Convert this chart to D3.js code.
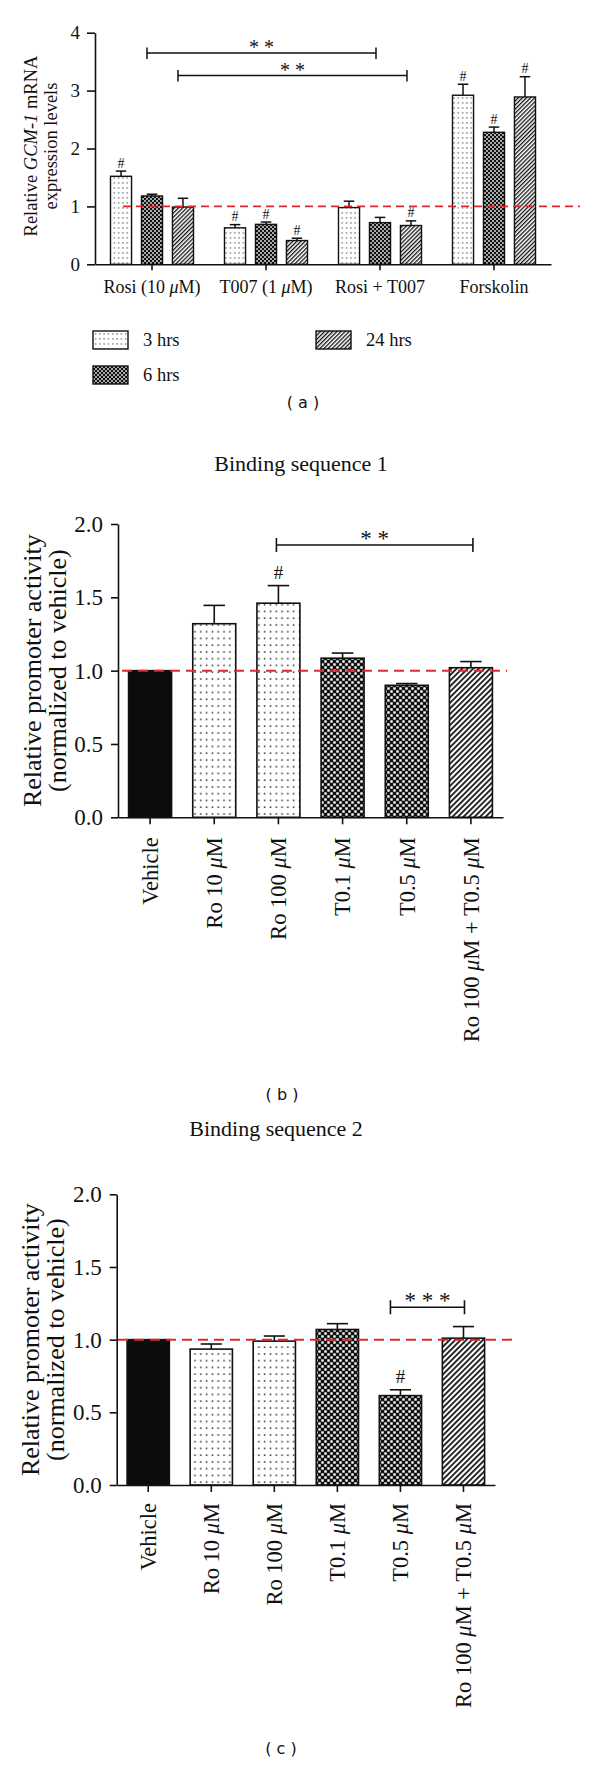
<!DOCTYPE html>
<html>
<head>
<meta charset="utf-8">
<script src="https://cdn.jsdelivr.net/npm/d3@7"></script>
<style>
  body { margin: 0; background: #fff; }
  svg { display: block; }
  text { font-family: "Liberation Serif", "Times New Roman", serif; fill: #111; }
  .plabel { font-family: "DejaVu Sans", sans-serif; }
</style>
</head>
<body>
<script>
// ---------- panel (a): GCM-1 mRNA ----------
const groupsA = ["Rosi (10 μM)", "T007 (1 μM)", "Rosi + T007", "Forskolin"];
const seriesA = ["3 hrs", "6 hrs", "24 hrs"];
const meanA3  = [1.52, 0.63, 0.98, 2.92];
const meanA6  = [1.18, 0.69, 0.72, 2.28];
const meanA24 = [0.99, 0.41, 0.67, 2.89];
const errA3   = [0.09, 0.055, 0.11, 0.19];
const errA6   = [0.03, 0.04, 0.09, 0.09];
const errA24  = [0.15, 0.04, 0.08, 0.35];
const hashA3  = [true, true, false, true];
const hashA6  = [false, true, false, true];
const hashA24 = [false, true, true, true];
const ticksA  = [0, 1, 2, 3, 4];

// ---------- panels (b) and (c): promoter activity ----------
const catsBC  = ["Vehicle", "Ro 10 μM", "Ro 100 μM", "T0.1 μM", "T0.5 μM", "Ro 100 μM + T0.5 μM"];
const fillBC  = ["solid", "dots", "dots", "checker", "checker", "hatch"];
const meanB   = [1.0, 1.32, 1.46, 1.085, 0.90, 1.02];
const errB    = [0, 0.125, 0.12, 0.035, 0.012, 0.042];
const hashB   = [false, false, true, false, false, false];
const meanC   = [1.0, 0.935, 0.99, 1.07, 0.615, 1.01];
const errC    = [0, 0.035, 0.035, 0.04, 0.04, 0.08];
const hashC   = [false, false, false, false, true, false];
const ticksBC = [0, 0.5, 1.0, 1.5, 2.0];

const svg = d3.select("body").append("svg")
    .attr("width", 600)
    .attr("height", 1775);
const defs = svg.append("defs");

// patterns: dots (3 hrs / Ro), checker (6 hrs / T007), hatch (24 hrs / combo)
function addPatterns(key, k, c) {
  const dots = defs.append("pattern").attr("id", "dots" + key)
      .attr("patternUnits", "userSpaceOnUse")
      .attr("width", 4.3 * k).attr("height", 5 * k);
  dots.append("rect").attr("width", 4.3 * k).attr("height", 5 * k).attr("fill", "#fff");
  dots.append("rect").attr("x", 2 * k).attr("y", 2.4 * k)
      .attr("width", 1.1 * k).attr("height", 1.1 * k).attr("fill", "#222");

  const chk = defs.append("pattern").attr("id", "checker" + key)
      .attr("patternUnits", "userSpaceOnUse")
      .attr("width", 2 * c).attr("height", 2 * c);
  chk.append("rect").attr("width", 2 * c).attr("height", 2 * c).attr("fill", "#111");
  chk.append("rect").attr("x", 0.1 * c).attr("y", 0.1 * c)
      .attr("width", c * 0.8).attr("height", c * 0.8).attr("fill", "#fff");
  chk.append("rect").attr("x", 1.1 * c).attr("y", 1.1 * c)
      .attr("width", c * 0.8).attr("height", c * 0.8).attr("fill", "#fff");

  const s = 2.9 * k;
  const hatch = defs.append("pattern").attr("id", "hatch" + key)
      .attr("patternUnits", "userSpaceOnUse")
      .attr("width", s).attr("height", s)
      .attr("patternTransform", "rotate(45)");
  hatch.append("rect").attr("width", s).attr("height", s).attr("fill", "#fff");
  hatch.append("rect").attr("width", 1.3 * k).attr("height", s).attr("fill", "#111");
}
addPatterns("A", 1, 2);
addPatterns("B", 1.35, 3);

function fillOf(kind, key) {
  return kind === "solid" ? "#0c0c0c" : `url(#${kind}${key})`;
}

// μ is set in italics
function muText(sel) {
  sel.each(function() {
    const t = d3.select(this);
    const s = t.text();
    t.text(null);
    s.split(/(μ)/).forEach(part => {
      if (!part) return;
      t.append("tspan").text(part).style("font-style", part === "μ" ? "italic" : null);
    });
  });
}

function styleAxis(g, fs) {
  g.select(".domain").attr("stroke", "#111").attr("stroke-width", 1.6);
  g.selectAll(".tick line").attr("stroke", "#111").attr("stroke-width", 1.6);
  g.selectAll(".tick text").attr("fill", "#111")
    .style("font-family", '"Liberation Serif", serif').style("font-size", fs + "px");
}

// ================= panel (a) =================
{
  const seriesFill = ["dots", "checker", "hatch"];
  const means = [meanA3, meanA6, meanA24];
  const errs = [errA3, errA6, errA24];
  const hashes = [hashA3, hashA6, hashA24];

  const x = d3.scaleBand().domain(groupsA).range([95, 551]);
  const xs = d3.scaleBand().domain(seriesA).range([0, x.bandwidth()])
      .paddingInner(0.32).paddingOuter(0.5);
  const y = d3.scaleLinear().domain([0, 4]).range([264.3, 32.7]);

  const rows = groupsA.flatMap((g, i) => seriesA.map((s, j) => ({
    g, s, v: means[j][i], e: errs[j][i], h: hashes[j][i], f: seriesFill[j]
  })));
  const cx = d => x(d.g) + xs(d.s) + xs.bandwidth() / 2;

  // error bars
  const eb = svg.append("g").attr("stroke", "#111").attr("stroke-width", 1.5);
  eb.selectAll("line.v").data(rows).enter().append("line")
      .attr("x1", cx).attr("x2", cx)
      .attr("y1", d => y(d.v)).attr("y2", d => y(d.v + d.e));
  eb.selectAll("line.c").data(rows).enter().append("line")
      .attr("x1", d => cx(d) - xs.bandwidth() / 4).attr("x2", d => cx(d) + xs.bandwidth() / 4)
      .attr("y1", d => y(d.v + d.e)).attr("y2", d => y(d.v + d.e));

  svg.append("g").selectAll("rect").data(rows).enter().append("rect")
      .attr("x", d => x(d.g) + xs(d.s))
      .attr("y", d => y(d.v))
      .attr("width", xs.bandwidth())
      .attr("height", d => y(0) - y(d.v))
      .attr("fill", d => fillOf(d.f, "A"))
      .attr("stroke", "#111").attr("stroke-width", 1.4);

  svg.append("g").selectAll("text").data(rows.filter(d => d.h)).enter().append("text")
      .attr("x", cx).attr("y", d => y(d.v + d.e) - 3.5)
      .attr("text-anchor", "middle").style("font-size", "14px").text("#");

  // reference line at 1
  svg.append("line")
      .attr("x1", 123).attr("x2", 580)
      .attr("y1", y(1)).attr("y2", y(1))
      .attr("stroke", "#e0282c").attr("stroke-width", 1.8)
      .attr("stroke-dasharray", "8,5");

  const ya = svg.append("g").attr("transform", "translate(95,0)")
      .call(d3.axisLeft(y).tickValues(ticksA).tickSize(8).tickSizeOuter(0).tickPadding(7)
        .tickFormat(d3.format("d")));
  styleAxis(ya, 19);

  const xa = svg.append("g").attr("transform", `translate(0,${y(0)})`)
      .call(d3.axisBottom(x).tickSize(6).tickSizeOuter(0).tickPadding(10));
  styleAxis(xa, 18);
  xa.selectAll(".tick text").call(muText);

  // significance brackets
  const brackets = [
    { a: ["Rosi (10 μM)", "6 hrs"], b: ["Rosi + T007", "6 hrs"], v: 3.65 },
    { a: ["Rosi (10 μM)", "24 hrs"], b: ["Rosi + T007", "24 hrs"], v: 3.26 }
  ];
  brackets.forEach(br => {
    const x1 = x(br.a[0]) + xs(br.a[1]) + xs.bandwidth() / 2 - 5;
    const x2 = x(br.b[0]) + xs(br.b[1]) + xs.bandwidth() / 2 - 4;
    const yy = y(br.v);
    const g = svg.append("g").attr("stroke", "#111").attr("stroke-width", 1.5);
    g.append("line").attr("x1", x1).attr("x2", x2).attr("y1", yy).attr("y2", yy);
    g.append("line").attr("x1", x1).attr("x2", x1).attr("y1", yy - 5.5).attr("y2", yy + 6);
    g.append("line").attr("x1", x2).attr("x2", x2).attr("y1", yy - 5.5).attr("y2", yy + 6);
    svg.append("text").attr("x", (x1 + x2) / 2).attr("y", yy + 1)
        .attr("text-anchor", "middle").style("font-size", "20px").text("* *");
  });

  // y label
  const yl = svg.append("g").attr("transform", "translate(0,146)");
  const l1 = yl.append("text").attr("transform", "translate(31,0) rotate(-90)")
      .attr("text-anchor", "middle").attr("dy", "0.35em").style("font-size", "18.5px");
  l1.append("tspan").text("Relative ");
  l1.append("tspan").style("font-style", "italic").text("GCM-1");
  l1.append("tspan").text(" mRNA");
  yl.append("text").attr("transform", "translate(51,0) rotate(-90)")
      .attr("text-anchor", "middle").attr("dy", "0.35em").style("font-size", "18.5px")
      .text("expression levels");

  // legend
  const legPos = [[93, 331], [93, 366], [316, 331]];
  const leg = svg.append("g").selectAll("g").data(seriesA).enter().append("g")
      .attr("transform", (d, i) => `translate(${legPos[i][0]},${legPos[i][1]})`);
  leg.append("rect").attr("width", 35).attr("height", 18)
      .attr("fill", (d, i) => fillOf(seriesFill[i], "A"))
      .attr("stroke", "#111").attr("stroke-width", 1.4);
  leg.append("text").attr("x", 50).attr("y", 15).style("font-size", "18.5px").text(d => d);

  svg.append("text").attr("class", "plabel").attr("x", 303).attr("y", 408)
      .attr("text-anchor", "middle").style("font-size", "16px").text("( a )");
}

// ================= panels (b), (c) =================
function drawPanel(opt) {
  const x = d3.scaleBand().domain(catsBC).range([opt.x0, opt.x1])
      .paddingInner(0.33).paddingOuter(0.165);
  const y = d3.scaleLinear().domain([0, 2]).range([opt.yBase, opt.yTop]);
  const rows = catsBC.map((c, i) => ({ c, v: opt.mean[i], e: opt.err[i], h: opt.hash[i], f: fillBC[i] }));
  const cx = d => x(d.c) + x.bandwidth() / 2;

  svg.append("text").attr("x", opt.titleX).attr("y", opt.titleY)
      .attr("text-anchor", "middle").style("font-size", "22px").text(opt.title);

  const eb = svg.append("g").attr("stroke", "#111").attr("stroke-width", 1.6);
  const withErr = rows.filter(d => d.e > 0);
  eb.selectAll("line.v").data(withErr).enter().append("line")
      .attr("x1", cx).attr("x2", cx)
      .attr("y1", d => y(d.v)).attr("y2", d => y(d.v + d.e));
  eb.selectAll("line.c").data(withErr).enter().append("line")
      .attr("x1", d => cx(d) - x.bandwidth() / 4).attr("x2", d => cx(d) + x.bandwidth() / 4)
      .attr("y1", d => y(d.v + d.e)).attr("y2", d => y(d.v + d.e));

  svg.append("g").selectAll("rect").data(rows).enter().append("rect")
      .attr("x", d => x(d.c))
      .attr("y", d => y(d.v))
      .attr("width", x.bandwidth())
      .attr("height", d => y(0) - y(d.v))
      .attr("fill", d => fillOf(d.f, "B"))
      .attr("stroke", "#111").attr("stroke-width", 1.6);

  svg.append("g").selectAll("text").data(rows.filter(d => d.h)).enter().append("text")
      .attr("x", cx).attr("y", d => y(d.v + d.e) - 7)
      .attr("text-anchor", "middle").style("font-size", "19px").text("#");

  svg.append("line")
      .attr("x1", opt.dashX0).attr("x2", opt.dashX1)
      .attr("y1", y(1)).attr("y2", y(1))
      .attr("stroke", "#e0282c").attr("stroke-width", 2)
      .attr("stroke-dasharray", "10,6");

  const ya = svg.append("g").attr("transform", `translate(${opt.x0},0)`)
      .call(d3.axisLeft(y).tickValues(ticksBC).tickSize(7).tickSizeOuter(0).tickPadding(8)
        .tickFormat(d3.format(".1f")));
  styleAxis(ya, 23);

  const xa = svg.append("g").attr("transform", `translate(0,${y(0)})`)
      .call(d3.axisBottom(x).tickSize(7).tickSizeOuter(0));
  styleAxis(xa, 22.5);
  xa.selectAll(".tick text")
      .attr("transform", "rotate(-90)")
      .attr("x", -opt.labelGap).attr("y", 0).attr("dy", "0.35em")
      .style("text-anchor", "end")
      .call(muText);

  // bracket
  const x1 = cx(rows[catsBC.indexOf(opt.br.a)]) + opt.br.da;
  const x2 = cx(rows[catsBC.indexOf(opt.br.b)]) + opt.br.db;
  const yy = y(opt.br.v);
  const g = svg.append("g").attr("stroke", "#111").attr("stroke-width", 1.6);
  g.append("line").attr("x1", x1).attr("x2", x2).attr("y1", yy).attr("y2", yy);
  g.append("line").attr("x1", x1).attr("x2", x1).attr("y1", yy - 7).attr("y2", yy + 7);
  g.append("line").attr("x1", x2).attr("x2", x2).attr("y1", yy - 7).attr("y2", yy + 7);
  svg.append("text").attr("x", (x1 + x2) / 2).attr("y", yy + 1)
      .attr("text-anchor", "middle").style("font-size", "23px").text(opt.br.label);

  const cy = (opt.yBase + opt.yTop) / 2;
  svg.append("text").attr("transform", `translate(${opt.labX1},${cy}) rotate(-90)`)
      .attr("text-anchor", "middle").attr("dy", "0.35em").style("font-size", "26px")
      .text("Relative promoter activity");
  svg.append("text").attr("transform", `translate(${opt.labX2},${cy}) rotate(-90)`)
      .attr("text-anchor", "middle").attr("dy", "0.35em").style("font-size", "26px")
      .text("(normalized to vehicle)");

  svg.append("text").attr("class", "plabel").attr("x", opt.panelX).attr("y", opt.panelY)
      .attr("text-anchor", "middle").style("font-size", "16px").text(opt.panel);
}

drawPanel({
  mean: meanB, err: errB, hash: hashB,
  x0: 118, x1: 503, yBase: 817.3, yTop: 524,
  title: "Binding sequence 1", titleX: 301, titleY: 471,
  dashX0: 122, dashX1: 507, labelGap: 20,
  br: { a: "Ro 100 μM", b: "Ro 100 μM + T0.5 μM", da: -2, db: 2, v: 1.857, label: "* *" },
  labX1: 32, labX2: 57, panel: "( b )", panelX: 282, panelY: 1100
});

drawPanel({
  mean: meanC, err: errC, hash: hashC,
  x0: 116.7, x1: 495, yBase: 1485, yTop: 1194.3,
  title: "Binding sequence 2", titleX: 276, titleY: 1136,
  dashX0: 118, dashX1: 513, labelGap: 18,
  br: { a: "T0.5 μM", b: "Ro 100 μM + T0.5 μM", da: -10, db: 1, v: 1.223, label: "* * *" },
  labX1: 30, labX2: 55, panel: "( c )", panelX: 281, panelY: 1754
});
</script>
</body>
</html>
